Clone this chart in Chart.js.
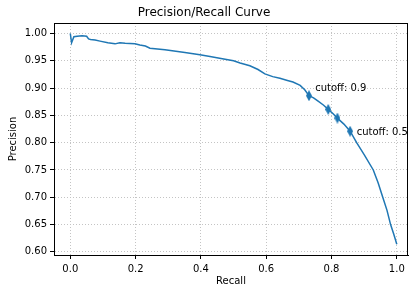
<!DOCTYPE html>
<html>
<head>
<meta charset="utf-8">
<script src="https://cdn.jsdelivr.net/npm/chart.js@4.4.1/dist/chart.umd.min.js"></script>
<style>
  html, body { margin: 0; padding: 0; background: #fff; }
  #wrap { width: 409px; height: 286px; }
</style>
</head>
<body>
<div id="wrap"><canvas id="prChart" width="409" height="286"></canvas></div>
<script>
// precision / recall curve
const recall = [0.000, 0.004, 0.011, 0.021, 0.036, 0.050, 0.056, 0.062, 0.076, 0.091, 0.115,
  0.137, 0.152, 0.168, 0.198, 0.213, 0.230, 0.244, 0.290, 0.351, 0.397, 0.428,
  0.474, 0.500, 0.520, 0.550, 0.575, 0.596, 0.620, 0.642, 0.665, 0.682, 0.704, 0.718, 0.731, 0.745, 0.759, 0.775, 0.790,
  0.805, 0.818, 0.838, 0.857, 0.877, 0.900, 0.928, 0.943, 0.957, 0.970, 0.981, 0.991, 1.000];
const precision = [1.000, 0.983, 0.994, 0.995, 0.996, 0.995, 0.990, 0.989, 0.988, 0.986, 0.983,
  0.981, 0.983, 0.982, 0.981, 0.979, 0.977, 0.973, 0.970, 0.965, 0.961, 0.958,
  0.953, 0.950, 0.946, 0.941, 0.934, 0.926, 0.921, 0.918, 0.914, 0.911, 0.905, 0.897, 0.886, 0.882, 0.876, 0.869, 0.861,
  0.853, 0.845, 0.834, 0.821, 0.800, 0.778, 0.750, 0.726, 0.700, 0.676, 0.650, 0.632, 0.614];

// cutoff markers and their notes
const cutoffRecall = [0.731, 0.790, 0.818, 0.857];
const cutoffPrecision = [0.886, 0.861, 0.845, 0.821];
const noteText = ['cutoff: 0.9', 'cutoff: 0.5'];
const noteRecall = [0.750, 0.877];
const notePrecision = [0.895, 0.814];

const xTicks = [0, 0.2, 0.4, 0.6, 0.8, 1.0];
const yTicks = [0.60, 0.65, 0.70, 0.75, 0.80, 0.85, 0.90, 0.95, 1.00];

const blue = '#1f77b4';

function thinDiamond(w, h, color) {
  const c = document.createElement('canvas');
  c.width = w; c.height = h;
  const g = c.getContext('2d');
  g.fillStyle = color;
  g.beginPath();
  g.moveTo(w / 2, 0); g.lineTo(w, h / 2); g.lineTo(w / 2, h); g.lineTo(0, h / 2);
  g.closePath();
  g.fill();
  return c;
}

// box round the plot + cutoff notes
const framePlugin = {
  id: 'frame',
  afterDraw(chart) {
    const { ctx, chartArea: a, scales } = chart;
    ctx.save();
    ctx.strokeStyle = '#000';
    ctx.lineWidth = 1;
    ctx.strokeRect(Math.round(a.left) + 0.5, Math.round(a.top) + 0.5,
      Math.round(a.right - a.left) - 1, Math.round(a.bottom - a.top));
    ctx.fillStyle = '#000';
    ctx.font = '10px "DejaVu Sans"';
    ctx.textAlign = 'left';
    ctx.textBaseline = 'alphabetic';
    noteText.forEach((t, i) => {
      ctx.fillText(t, scales.x.getPixelForValue(noteRecall[i]), scales.y.getPixelForValue(notePrecision[i]));
    });
    ctx.restore();
  }
};

Chart.defaults.font.family = '"DejaVu Sans"';
Chart.defaults.font.size = 10;
Chart.defaults.color = '#000';

const gridOpts = {
  color: '#c4c4c4',
  lineWidth: 1,
  tickColor: '#000',
  tickLength: 4,
  tickWidth: 1,
  tickBorderDash: []
};

new Chart(document.getElementById('prChart'), {
  type: 'scatter',
  data: {
    datasets: [
      {
        data: recall.map((r, i) => ({ x: r, y: precision[i] })),
        showLine: true,
        borderColor: blue,
        borderWidth: 1.5,
        pointRadius: 0,
        tension: 0,
        order: 2
      },
      {
        data: cutoffRecall.map((r, i) => ({ x: r, y: cutoffPrecision[i] })),
        showLine: false,
        pointStyle: thinDiamond(6, 11, blue),
        pointRadius: 4,
        backgroundColor: blue,
        borderColor: blue,
        order: 1
      }
    ]
  },
  options: {
    responsive: false,
    animation: false,
    layout: { autoPadding: false, padding: { left: 0, right: 1, top: 0, bottom: 0 } },
    plugins: {
      legend: { display: false },
      tooltip: { enabled: false },
      title: {
        display: true,
        text: 'Precision/Recall Curve',
        font: { size: 12, weight: 'normal' },
        color: '#000',
        padding: { top: 5.5, bottom: 3.1 }
      }
    },
    scales: {
      x: {
        type: 'linear',
        min: -0.0499,
        max: 1.0343,
        afterBuildTicks: s => { s.ticks = xTicks.map(v => ({ value: v })); },
        afterFit: s => { s.height = 31; s.paddingLeft = 0; s.paddingRight = 0; },
        ticks: { padding: 4, maxRotation: 0, callback: v => v.toFixed(1) },
        grid: gridOpts,
        border: { display: true, color: '#000', width: 1, dash: [1, 2] },
        title: { display: true, text: 'Recall', padding: { top: 0, bottom: -1 } }
      },
      y: {
        type: 'linear',
        min: 0.5943,
        max: 1.0192,
        afterBuildTicks: s => { s.ticks = yTicks.map(v => ({ value: v })); },
        afterFit: s => { s.width = 54; s.paddingTop = 0; s.paddingBottom = 0; },
        ticks: { padding: 3, callback: v => v.toFixed(2) },
        grid: gridOpts,
        border: { display: true, color: '#000', width: 1, dash: [1, 2] },
        title: { display: true, text: 'Precision', padding: { top: 7, bottom: 0 } }
      }
    }
  },
  plugins: [framePlugin]
});
</script>
</body>
</html>
